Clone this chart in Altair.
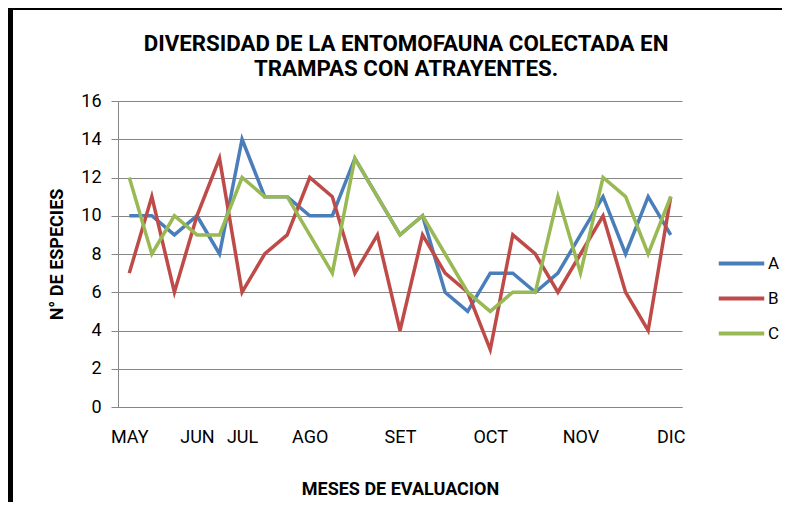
import altair as alt
import pandas as pd

# data
idx = list(range(25))
serie_a = [10, 10, 9, 10, 8, 14, 11, 11, 10, 10, 13, 11, 9, 10, 6, 5, 7, 7, 6, 7, 9, 11, 8, 11, 9]
serie_b = [7, 11, 6, 10, 13, 6, 8, 9, 12, 11, 7, 9, 4, 9, 7, 6, 3, 9, 8, 6, 8, 10, 6, 4, 11]
serie_c = [12, 8, 10, 9, 9, 12, 11, 11, 9, 7, 13, 11, 9, 10, 8, 6, 5, 6, 6, 11, 7, 12, 11, 8, 11]
series = ["A", "B", "C"]
colors = ["#4A7EBB", "#BE4B48", "#98B954"]
month_pos = [0, 3, 5, 8, 12, 16, 20, 24]
month_lab = ["MAY", "JUN", "JUL", "AGO", "SET", "OCT", "NOV", "DIC"]
y_ticks = [0, 2, 4, 6, 8, 10, 12, 14, 16]
title_lines = ["DIVERSIDAD DE LA ENTOMOFAUNA COLECTADA EN", "TRAMPAS CON ATRAYENTES."]

rows = []
for name, vals in zip(series, [serie_a, serie_b, serie_c]):
    for i, v in zip(idx, vals):
        rows.append({"i": i, "serie": name, "v": v})
df = pd.DataFrame(rows)

expr = "''"
for p, l in reversed(list(zip(month_pos, month_lab))):
    expr = f"datum.value == {p} ? '{l}' : ({expr})"

FONT = "Roboto"
GRID = "#868686"

lines = alt.Chart(df).mark_line(strokeWidth=3.5).encode(
    x=alt.X("i:Q", scale=alt.Scale(domain=[-0.5, 24.5], nice=False, zero=False),
            axis=alt.Axis(values=month_pos, labelExpr=expr, grid=False, ticks=False,
                          domainColor=GRID, labelOverlap=False, labelFlush=False,
                          labelFont=FONT, labelFontSize=18, labelColor="black",
                          labelPadding=21, title="MESES DE EVALUACION",
                          titleFont=FONT, titleFontSize=18, titleFontWeight="bold",
                          titleColor="black", titlePadding=34)),
    y=alt.Y("v:Q", scale=alt.Scale(domain=[0, 16], nice=False),
            axis=alt.Axis(values=y_ticks, grid=True, gridColor=GRID, gridWidth=1,
                          domainColor=GRID, tickColor=GRID, tickSize=7,
                          labelFont=FONT, labelFontSize=18, labelColor="black",
                          labelPadding=10, title="N° DE ESPECIES",
                          titleFont=FONT, titleFontSize=18, titleFontWeight="bold",
                          titleColor="black", titlePadding=14)),
    color=alt.Color("serie:N", scale=alt.Scale(domain=series, range=colors),
                    legend=alt.Legend(title=None, orient="none", legendX=604, legendY=143,
                                      symbolType="M-1.3,0L1.3,0", symbolSize=1225,
                                      symbolStrokeWidth=4, labelOffset=7, padding=0,
                                      rowPadding=7, labelFont=FONT, labelFontSize=17,
                                      labelColor="black")),
    order="i:Q",
)

one = alt.Data(values=[{"k": 1}])
left_border = alt.Chart(one).mark_rule(color="black", strokeWidth=5).encode(
    x=alt.value(-107.5), y=alt.value(-100), y2=alt.value(430))
top_border = alt.Chart(one).mark_rule(color="black", strokeWidth=6).encode(
    x=alt.value(-112), x2=alt.value(680), y=alt.value(-94))
title1 = alt.Chart(one).mark_text(text=title_lines[0], font=FONT, fontSize=22.3,
                                  fontWeight="bold", color="black", align="center",
                                  baseline="alphabetic").encode(
    x=alt.value(288), y=alt.value(-50))
title2 = alt.Chart(one).mark_text(text=title_lines[1], font=FONT, fontSize=22.3,
                                  fontWeight="bold", color="black", align="center",
                                  baseline="alphabetic").encode(
    x=alt.value(288), y=alt.value(-25))

chart = alt.layer(lines, left_border, top_border, title1, title2).properties(
    width=564, height=306,
    autosize=alt.AutoSizeParams(type="none"),
    padding={"left": 110, "top": 93, "right": 100, "bottom": 95},
).configure_view(stroke=None)

chart.save("out.html", embed_options={"renderer": "svg", "actions": False})
